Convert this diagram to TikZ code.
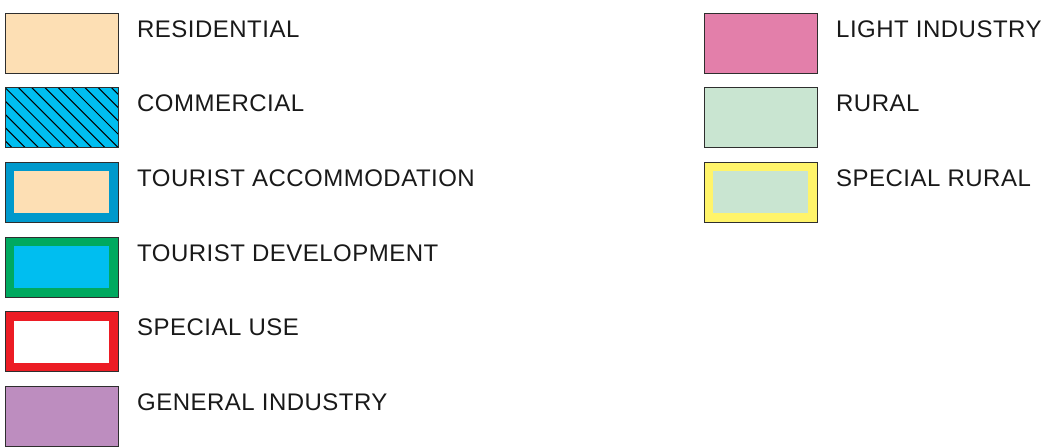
\documentclass[tikz,border=0pt]{standalone}
\usepackage{fontspec}
\setmainfont{Liberation Sans}[LetterSpace=2.0]
\definecolor{peach}{HTML}{FDDFB4}
\definecolor{cyanc}{HTML}{00BEF0}
\definecolor{tblue}{HTML}{0099CC}
\definecolor{tgreen}{HTML}{00A95F}
\definecolor{sred}{HTML}{EC1C24}
\definecolor{gind}{HTML}{BD8DBF}
\definecolor{lind}{HTML}{E37FAA}
\definecolor{rural}{HTML}{C9E5D1}
\definecolor{syellow}{HTML}{FFF46A}
\definecolor{edge}{HTML}{2E2E2E}
\tikzset{
  keybox/.style={draw=edge, line width=1pt, minimum width=113pt, minimum height=60pt, inner sep=0pt, outer sep=0pt, anchor=north west},
  innerbox/.style={minimum width=95pt, minimum height=42pt, inner sep=0pt, outer sep=0pt},
  label/.style={anchor=base west, inner sep=0pt, font=\fontsize{24}{28}\selectfont, text=black!90},
  hatch/.style={line width=1pt, black}
}
\begin{document}
\begin{tikzpicture}[x=1pt,y=-1pt]
\useasboundingbox (0,0) rectangle (1046,447);
% left column
\node[keybox, fill=peach] (res) at (5,13) {};
\node[label] (resl) at (137,37) {RESIDENTIAL};

\node[keybox, fill=cyanc] (com) at (5,87.5) {};
\begin{scope}
\clip (com.south west) rectangle (com.north east);
\foreach \k in {-5,...,9} \draw[hatch] (5+\k*13.3,87.5) -- ++(62,62);
\end{scope}
\draw[draw=edge, line width=1pt] (com.south west) rectangle (com.north east);
\node[label] (coml) at (137,111.5) {COMMERCIAL};

\node[keybox, fill=tblue] (ta) at (5,162) {};
\node[innerbox, fill=peach] (tai) at (ta.center) {};
\node[label] (tal) at (137,186) {TOURIST ACCOMMODATION};

\node[keybox, fill=tgreen] (td) at (5,237) {};
\node[innerbox, fill=cyanc] (tdi) at (td.center) {};
\node[label] (tdl) at (137,261) {TOURIST DEVELOPMENT};

\node[keybox, fill=sred] (su) at (5,311.5) {};
\node[innerbox, fill=white] (sui) at (su.center) {};
\node[label] (sul) at (137,335.5) {SPECIAL USE};

\node[keybox, fill=gind] (gi) at (5,386) {};
\node[label] (gil) at (137,410) {GENERAL INDUSTRY};

% right column
\node[keybox, fill=lind] (li) at (704,13) {};
\node[label] (lil) at (836,37) {LIGHT INDUSTRY};

\node[keybox, fill=rural] (ru) at (704,87.5) {};
\node[label] (rul) at (836,111.5) {RURAL};

\node[keybox, fill=syellow] (sr) at (704,162) {};
\node[innerbox, fill=rural] (sri) at (sr.center) {};
\node[label] (srl) at (836,186) {SPECIAL RURAL};
\end{tikzpicture}
\end{document}
